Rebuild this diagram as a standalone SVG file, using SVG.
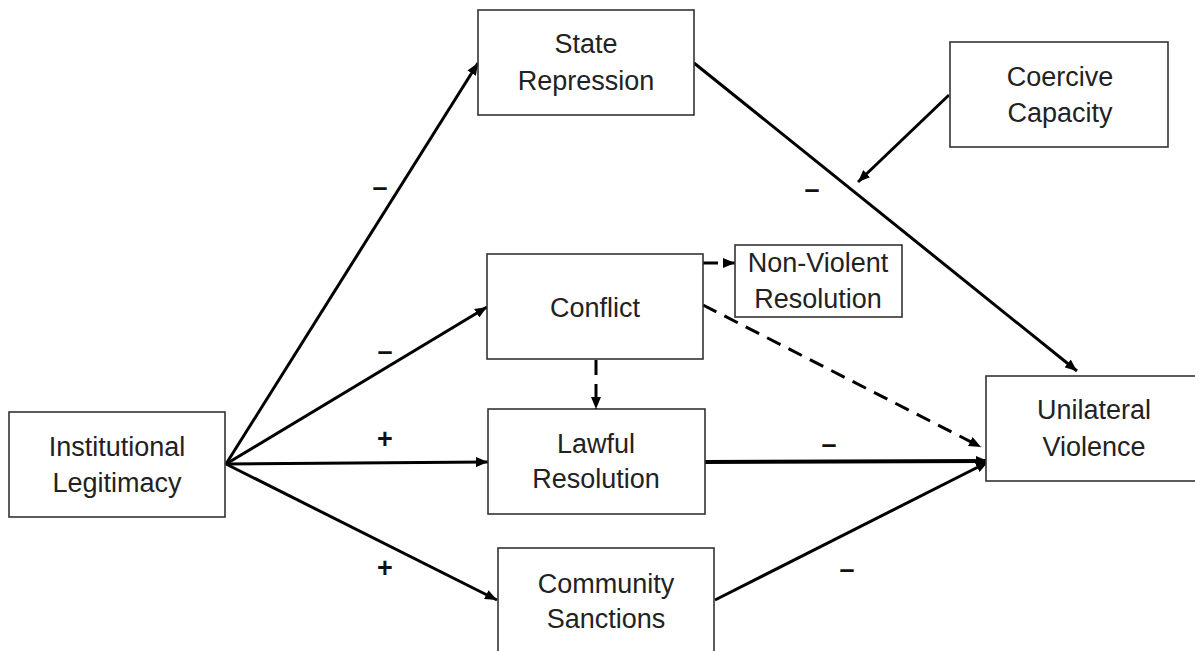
<svg xmlns="http://www.w3.org/2000/svg" width="1195" height="651" viewBox="0 0 1195 651">
<style>
.box{fill:#fff;stroke:#333;stroke-width:1.6}
.lbl{font-family:"Liberation Sans",Arial,sans-serif;font-size:27px;fill:#222;text-anchor:middle}
.sign{font-family:"Liberation Sans",Arial,sans-serif;font-size:27px;font-weight:bold;fill:#111;text-anchor:middle}
.edge{stroke:#000;stroke-width:3;fill:none}
.dash{stroke:#000;stroke-width:3;fill:none;stroke-dasharray:15 9}
</style>
<defs>
<marker id="ah" markerUnits="userSpaceOnUse" viewBox="0 0 12 10" refX="12" refY="5" markerWidth="12" markerHeight="10" orient="auto">
<path d="M0,0 L12,5 L0,10 z" fill="#000"/>
</marker>
</defs>
<rect width="1195" height="651" fill="#fff"/>
<g id="connectors">
<line class="edge" x1="226" y1="464" x2="478" y2="63" marker-end="url(#ah)"/>
<line class="edge" x1="226" y1="464" x2="487" y2="307" marker-end="url(#ah)"/>
<line class="edge" x1="226" y1="464" x2="488" y2="462" marker-end="url(#ah)"/>
<line class="edge" x1="226" y1="464" x2="497" y2="600" marker-end="url(#ah)"/>
<line class="edge" x1="694" y1="63" x2="1077" y2="371" marker-end="url(#ah)"/>
<line class="edge" x1="949" y1="95" x2="858" y2="182" marker-end="url(#ah)"/>
<line class="dash" x1="703" y1="263" x2="735" y2="263" marker-end="url(#ah)"/>
<line class="dash" x1="596" y1="360" x2="596" y2="409" marker-end="url(#ah)"/>
<line class="dash" x1="703" y1="305" x2="981" y2="447" marker-end="url(#ah)"/>
<line class="edge" style="stroke-width:4" x1="705" y1="462" x2="988" y2="461" marker-end="url(#ah)"/>
<line class="edge" x1="715" y1="600" x2="988" y2="462" marker-end="url(#ah)"/>
<text class="sign" x="380" y="196">–</text>
<text class="sign" x="385" y="360">–</text>
<text class="sign" x="385" y="448">+</text>
<text class="sign" x="385" y="577">+</text>
<text class="sign" x="812" y="198">–</text>
<text class="sign" x="829" y="453">–</text>
<text class="sign" x="847" y="578">–</text>
</g>
<g id="institutional-legitimacy">
<rect class="box" x="9" y="412" width="216" height="105"/>
<text class="lbl" x="117" y="456">Institutional</text>
<text class="lbl" x="117" y="492">Legitimacy</text>
</g>
<g id="state-repression">
<rect class="box" x="478" y="10" width="216" height="105"/>
<text class="lbl" x="586" y="53">State</text>
<text class="lbl" x="586" y="90">Repression</text>
</g>
<g id="coercive-capacity">
<rect class="box" x="950" y="42" width="218" height="105"/>
<text class="lbl" x="1060" y="86">Coercive</text>
<text class="lbl" x="1060" y="122">Capacity</text>
</g>
<g id="conflict">
<rect class="box" x="487" y="254" width="216" height="105"/>
<text class="lbl" x="595" y="317">Conflict</text>
</g>
<g id="non-violent-resolution">
<rect class="box" x="735" y="245" width="167" height="72"/>
<text class="lbl" x="818" y="272">Non-Violent</text>
<text class="lbl" x="818" y="308">Resolution</text>
</g>
<g id="lawful-resolution">
<rect class="box" x="488" y="409" width="217" height="105"/>
<text class="lbl" x="596" y="453">Lawful</text>
<text class="lbl" x="596" y="488">Resolution</text>
</g>
<g id="community-sanctions">
<rect class="box" x="498" y="548" width="216" height="110"/>
<text class="lbl" x="606" y="593">Community</text>
<text class="lbl" x="606" y="628">Sanctions</text>
</g>
<g id="unilateral-violence">
<rect class="box" x="986" y="376" width="216" height="105"/>
<text class="lbl" x="1094" y="419">Unilateral</text>
<text class="lbl" x="1094" y="456">Violence</text>
</g>
</svg>
